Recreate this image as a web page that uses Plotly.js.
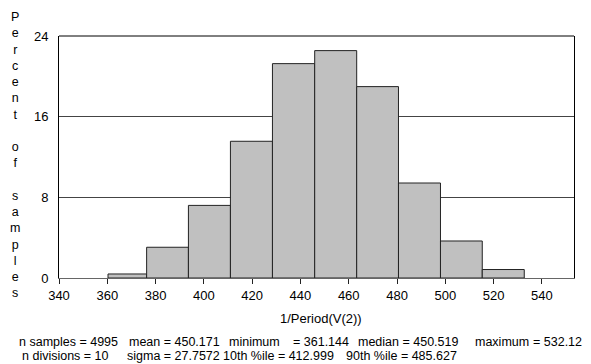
<!DOCTYPE html>
<html>
<head>
<meta charset="utf-8">
<script src="https://cdn.plot.ly/plotly-3.0.1.min.js"></script>
<style>html,body{margin:0;padding:0;background:#fff;}#chart{width:591px;height:364px;}</style>
</head>
<body>
<div id="chart"></div>
<script>
// Bin edges (1/Period(V(2))) and percent of samples per bin
const binEdges = [360.3, 376.3, 393.6, 411.0, 428.4, 445.9, 463.3, 480.6, 498.0, 515.3, 532.7];
const percentValues = [0.4, 3.05, 7.2, 13.56, 21.26, 22.55, 18.98, 9.42, 3.67, 0.84];
const xTickValues = [340, 360, 380, 400, 420, 440, 460, 480, 500, 520, 540];
const yTickValues = [0, 8, 16, 24];
const yLabelText = "Percent of samples";
const xTitleText = "1/Period(V(2))";
const statsLine1 = ["n samples = 4995", "mean = 450.171", "minimum", "= 361.144", "median = 450.519", "maximum", "= 532.12"];
const statsLine2 = ["n divisions = 10", "sigma = 27.7572", "10th %ile = 412.999", "90th %ile = 485.627"];

const centers = [], widths = [];
for (let i = 0; i < percentValues.length; i++) {
  centers.push((binEdges[i] + binEdges[i + 1]) / 2);
  widths.push(binEdges[i + 1] - binEdges[i]);
}

const L = 59, R = 17, T = 36, B = 86, W = 591 - L - R, H = 364 - T - B;
const px = v => (v - L) / W;
const py = v => (364 - B - v) / H;
const FONT = "Liberation Sans, Arial, sans-serif";

const line1X = [17, 127, 227, 291, 356, 473, 531];
const line2X = [20, 125, 221, 344];
const annotations = [];
statsLine1.forEach((t, i) => annotations.push({xref: 'paper', yref: 'paper', x: px(line1X[i]), y: py(342), xanchor: 'left', yanchor: 'middle', text: t, showarrow: false, font: {family: FONT, size: 12.5, color: '#000'}}));
statsLine2.forEach((t, i) => annotations.push({xref: 'paper', yref: 'paper', x: px(line2X[i]), y: py(355.5), xanchor: 'left', yanchor: 'middle', text: t, showarrow: false, font: {family: FONT, size: 12.5, color: '#000'}}));
annotations.push({xref: 'paper', yref: 'paper', x: px(321), y: py(318), xanchor: 'center', yanchor: 'middle', text: xTitleText, showarrow: false, font: {family: FONT, size: 13, color: '#000'}});
annotations.push({xref: 'paper', yref: 'paper', x: px(15), y: py(154.5), xanchor: 'center', yanchor: 'middle', text: yLabelText.split('').join('<br>'), showarrow: false, font: {family: FONT, size: 12.5, color: '#000'}});

const trace = {
  type: 'bar', x: centers, y: percentValues, width: widths,
  marker: {color: '#c0c0c0', line: {color: '#222', width: 1}},
  hoverinfo: 'none'
};

const layout = {
  width: 591, height: 364,
  margin: {l: L, r: R, t: T, b: B, pad: 0},
  paper_bgcolor: '#fff', plot_bgcolor: '#fff',
  showlegend: false, bargap: 0,
  font: {family: FONT, size: 13, color: '#000'},
  xaxis: {
    range: [340, 553.3], tickvals: xTickValues, ticktext: xTickValues.map(String),
    ticks: 'outside', ticklen: 5, tickcolor: '#222', tickwidth: 1,
    showgrid: false, zeroline: false,
    showline: true, linecolor: '#666', linewidth: 1, mirror: false,
    tickfont: {family: FONT, size: 13, color: '#000'}
  },
  yaxis: {
    range: [0, 24], tickvals: yTickValues, ticktext: yTickValues.map(String),
    ticks: '', ticklabelstandoff: 7,
    showgrid: true, gridcolor: '#444', gridwidth: 1, zeroline: false,
    showline: true, linecolor: '#000', linewidth: 1, mirror: true,
    tickfont: {family: FONT, size: 13, color: '#000'}
  },
  shapes: [{type: 'line', xref: 'paper', yref: 'paper', x0: 0, x1: 1, y0: 1, y1: 1, line: {color: '#000', width: 1}}],
  annotations: annotations
};

Plotly.newPlot('chart', [trace], layout, {staticPlot: true, displayModeBar: false});
</script>
</body>
</html>
